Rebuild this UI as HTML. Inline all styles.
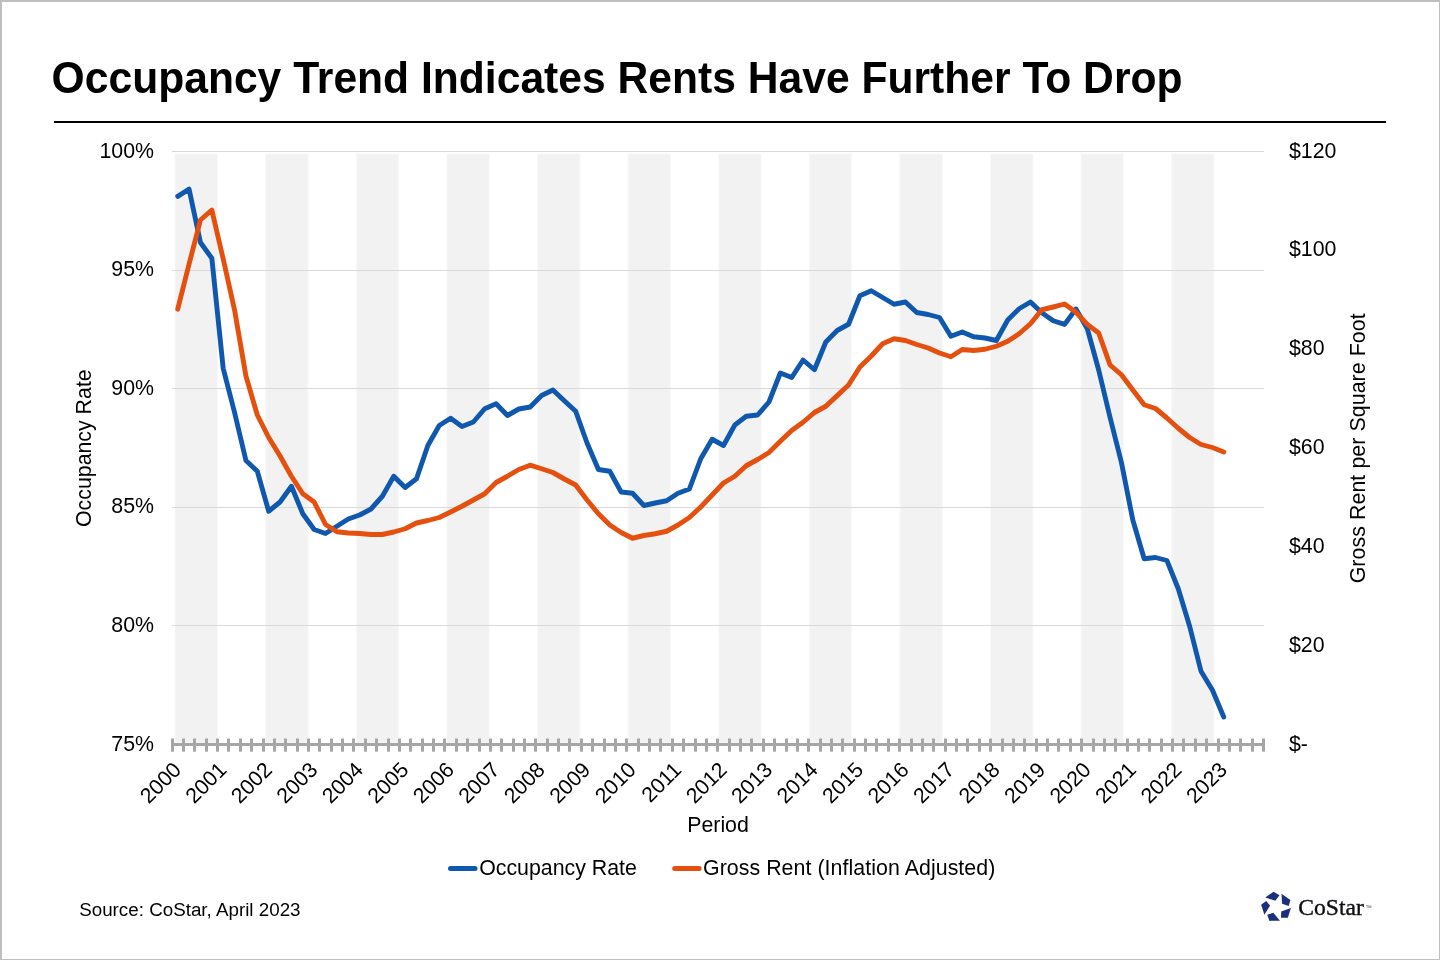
<!DOCTYPE html>
<html lang="en"><head><meta charset="utf-8"><title>Occupancy Trend Indicates Rents Have Further To Drop</title>
<style>
html,body{margin:0;padding:0;background:#fff;}
body{width:1440px;height:960px;overflow:hidden;position:relative;font-family:"Liberation Sans", sans-serif;}
svg{position:absolute;left:0;top:0;display:block;}
text{font-family:"Liberation Sans", sans-serif;fill:#000;}
.tl{font-size:21.33px;}
.logo{font-family:"Liberation Serif",serif;}
</style></head><body>
<svg width="1440" height="960" viewBox="0 0 1440 960">
<rect x="0" y="0" width="1440" height="960" fill="#fff"/>
<!-- outer frame -->
<rect x="0" y="0" width="1440" height="2" fill="#bfbfbf"/>
<rect x="0" y="0" width="2" height="960" fill="#bfbfbf"/>
<rect x="1439" y="0" width="1" height="960" fill="#bfbfbf"/>
<rect x="0" y="959" width="1440" height="1" fill="#bfbfbf"/>
<!-- title -->
<text id="title" transform="translate(51.6,92.6) scale(1,1.035)" font-size="42.62" font-weight="700">Occupancy Trend Indicates Rents Have Further To Drop</text>
<rect x="54" y="121" width="1332" height="2" fill="#000"/>

<g fill="#f2f2f2" stroke="#f9f9f9" stroke-width="1">
<rect x="175.00" y="153.9" width="42.6" height="589"/>
<rect x="265.60" y="153.9" width="42.6" height="589"/>
<rect x="356.20" y="153.9" width="42.6" height="589"/>
<rect x="446.80" y="153.9" width="42.6" height="589"/>
<rect x="537.40" y="153.9" width="42.6" height="589"/>
<rect x="628.00" y="153.9" width="42.6" height="589"/>
<rect x="718.60" y="153.9" width="42.6" height="589"/>
<rect x="809.20" y="153.9" width="42.6" height="589"/>
<rect x="899.80" y="153.9" width="42.6" height="589"/>
<rect x="990.40" y="153.9" width="42.6" height="589"/>
<rect x="1081.00" y="153.9" width="42.6" height="589"/>
<rect x="1171.60" y="153.9" width="42.6" height="589"/>
</g>
<g stroke="#d9d9d9" stroke-width="1">
<line x1="172" y1="151.50" x2="1264" y2="151.50"/>
<line x1="172" y1="270.50" x2="1264" y2="270.50"/>
<line x1="172" y1="388.50" x2="1264" y2="388.50"/>
<line x1="172" y1="507.50" x2="1264" y2="507.50"/>
<line x1="172" y1="625.50" x2="1264" y2="625.50"/>
</g>
<g stroke="#a6a6a6" stroke-width="3">
<line x1="171" y1="744.5" x2="1265" y2="744.5"/>
<line x1="172.50" y1="738.5" x2="172.50" y2="751.7"/>
<line x1="183.50" y1="738.5" x2="183.50" y2="751.7"/>
<line x1="194.50" y1="738.5" x2="194.50" y2="751.7"/>
<line x1="206.50" y1="738.5" x2="206.50" y2="751.7"/>
<line x1="217.50" y1="738.5" x2="217.50" y2="751.7"/>
<line x1="228.50" y1="738.5" x2="228.50" y2="751.7"/>
<line x1="240.50" y1="738.5" x2="240.50" y2="751.7"/>
<line x1="251.50" y1="738.5" x2="251.50" y2="751.7"/>
<line x1="263.50" y1="738.5" x2="263.50" y2="751.7"/>
<line x1="274.50" y1="738.5" x2="274.50" y2="751.7"/>
<line x1="285.50" y1="738.5" x2="285.50" y2="751.7"/>
<line x1="297.50" y1="738.5" x2="297.50" y2="751.7"/>
<line x1="308.50" y1="738.5" x2="308.50" y2="751.7"/>
<line x1="319.50" y1="738.5" x2="319.50" y2="751.7"/>
<line x1="331.50" y1="738.5" x2="331.50" y2="751.7"/>
<line x1="342.50" y1="738.5" x2="342.50" y2="751.7"/>
<line x1="353.50" y1="738.5" x2="353.50" y2="751.7"/>
<line x1="365.50" y1="738.5" x2="365.50" y2="751.7"/>
<line x1="376.50" y1="738.5" x2="376.50" y2="751.7"/>
<line x1="388.50" y1="738.5" x2="388.50" y2="751.7"/>
<line x1="399.50" y1="738.5" x2="399.50" y2="751.7"/>
<line x1="410.50" y1="738.5" x2="410.50" y2="751.7"/>
<line x1="422.50" y1="738.5" x2="422.50" y2="751.7"/>
<line x1="433.50" y1="738.5" x2="433.50" y2="751.7"/>
<line x1="444.50" y1="738.5" x2="444.50" y2="751.7"/>
<line x1="456.50" y1="738.5" x2="456.50" y2="751.7"/>
<line x1="467.50" y1="738.5" x2="467.50" y2="751.7"/>
<line x1="479.50" y1="738.5" x2="479.50" y2="751.7"/>
<line x1="490.50" y1="738.5" x2="490.50" y2="751.7"/>
<line x1="501.50" y1="738.5" x2="501.50" y2="751.7"/>
<line x1="513.50" y1="738.5" x2="513.50" y2="751.7"/>
<line x1="524.50" y1="738.5" x2="524.50" y2="751.7"/>
<line x1="535.50" y1="738.5" x2="535.50" y2="751.7"/>
<line x1="547.50" y1="738.5" x2="547.50" y2="751.7"/>
<line x1="558.50" y1="738.5" x2="558.50" y2="751.7"/>
<line x1="569.50" y1="738.5" x2="569.50" y2="751.7"/>
<line x1="581.50" y1="738.5" x2="581.50" y2="751.7"/>
<line x1="592.50" y1="738.5" x2="592.50" y2="751.7"/>
<line x1="604.50" y1="738.5" x2="604.50" y2="751.7"/>
<line x1="615.50" y1="738.5" x2="615.50" y2="751.7"/>
<line x1="626.50" y1="738.5" x2="626.50" y2="751.7"/>
<line x1="638.50" y1="738.5" x2="638.50" y2="751.7"/>
<line x1="649.50" y1="738.5" x2="649.50" y2="751.7"/>
<line x1="660.50" y1="738.5" x2="660.50" y2="751.7"/>
<line x1="672.50" y1="738.5" x2="672.50" y2="751.7"/>
<line x1="683.50" y1="738.5" x2="683.50" y2="751.7"/>
<line x1="695.50" y1="738.5" x2="695.50" y2="751.7"/>
<line x1="706.50" y1="738.5" x2="706.50" y2="751.7"/>
<line x1="717.50" y1="738.5" x2="717.50" y2="751.7"/>
<line x1="729.50" y1="738.5" x2="729.50" y2="751.7"/>
<line x1="740.50" y1="738.5" x2="740.50" y2="751.7"/>
<line x1="751.50" y1="738.5" x2="751.50" y2="751.7"/>
<line x1="763.50" y1="738.5" x2="763.50" y2="751.7"/>
<line x1="774.50" y1="738.5" x2="774.50" y2="751.7"/>
<line x1="786.50" y1="738.5" x2="786.50" y2="751.7"/>
<line x1="797.50" y1="738.5" x2="797.50" y2="751.7"/>
<line x1="808.50" y1="738.5" x2="808.50" y2="751.7"/>
<line x1="820.50" y1="738.5" x2="820.50" y2="751.7"/>
<line x1="831.50" y1="738.5" x2="831.50" y2="751.7"/>
<line x1="842.50" y1="738.5" x2="842.50" y2="751.7"/>
<line x1="854.50" y1="738.5" x2="854.50" y2="751.7"/>
<line x1="865.50" y1="738.5" x2="865.50" y2="751.7"/>
<line x1="876.50" y1="738.5" x2="876.50" y2="751.7"/>
<line x1="888.50" y1="738.5" x2="888.50" y2="751.7"/>
<line x1="899.50" y1="738.5" x2="899.50" y2="751.7"/>
<line x1="911.50" y1="738.5" x2="911.50" y2="751.7"/>
<line x1="922.50" y1="738.5" x2="922.50" y2="751.7"/>
<line x1="933.50" y1="738.5" x2="933.50" y2="751.7"/>
<line x1="945.50" y1="738.5" x2="945.50" y2="751.7"/>
<line x1="956.50" y1="738.5" x2="956.50" y2="751.7"/>
<line x1="967.50" y1="738.5" x2="967.50" y2="751.7"/>
<line x1="979.50" y1="738.5" x2="979.50" y2="751.7"/>
<line x1="990.50" y1="738.5" x2="990.50" y2="751.7"/>
<line x1="1002.50" y1="738.5" x2="1002.50" y2="751.7"/>
<line x1="1013.50" y1="738.5" x2="1013.50" y2="751.7"/>
<line x1="1024.50" y1="738.5" x2="1024.50" y2="751.7"/>
<line x1="1036.50" y1="738.5" x2="1036.50" y2="751.7"/>
<line x1="1047.50" y1="738.5" x2="1047.50" y2="751.7"/>
<line x1="1058.50" y1="738.5" x2="1058.50" y2="751.7"/>
<line x1="1070.50" y1="738.5" x2="1070.50" y2="751.7"/>
<line x1="1081.50" y1="738.5" x2="1081.50" y2="751.7"/>
<line x1="1093.50" y1="738.5" x2="1093.50" y2="751.7"/>
<line x1="1104.50" y1="738.5" x2="1104.50" y2="751.7"/>
<line x1="1115.50" y1="738.5" x2="1115.50" y2="751.7"/>
<line x1="1127.50" y1="738.5" x2="1127.50" y2="751.7"/>
<line x1="1138.50" y1="738.5" x2="1138.50" y2="751.7"/>
<line x1="1149.50" y1="738.5" x2="1149.50" y2="751.7"/>
<line x1="1161.50" y1="738.5" x2="1161.50" y2="751.7"/>
<line x1="1172.50" y1="738.5" x2="1172.50" y2="751.7"/>
<line x1="1183.50" y1="738.5" x2="1183.50" y2="751.7"/>
<line x1="1195.50" y1="738.5" x2="1195.50" y2="751.7"/>
<line x1="1206.50" y1="738.5" x2="1206.50" y2="751.7"/>
<line x1="1218.50" y1="738.5" x2="1218.50" y2="751.7"/>
<line x1="1229.50" y1="738.5" x2="1229.50" y2="751.7"/>
<line x1="1240.50" y1="738.5" x2="1240.50" y2="751.7"/>
<line x1="1252.50" y1="738.5" x2="1252.50" y2="751.7"/>
<line x1="1263.50" y1="738.5" x2="1263.50" y2="751.7"/>
</g>
<polyline fill="none" stroke="#1058ae" stroke-width="4.9" stroke-linejoin="round" stroke-linecap="round" points="177.72,196.30 189.09,189.20 200.46,242.50 211.83,258.30 223.20,368.30 234.57,412.50 245.94,460.50 257.31,471.25 268.69,511.25 280.05,502.00 291.42,486.25 302.79,513.75 314.16,529.50 325.53,533.50 336.90,526.25 348.27,519.00 359.64,515.00 371.01,509.00 382.38,496.25 393.75,476.25 405.12,487.50 416.50,478.75 427.87,445.50 439.24,425.50 450.61,418.25 461.98,426.50 473.35,422.00 484.71,408.75 496.08,403.75 507.45,415.50 518.82,409.00 530.19,407.00 541.56,395.50 552.93,390.00 564.30,400.75 575.67,411.25 587.04,443.00 598.41,469.50 609.78,471.25 621.15,492.00 632.52,493.25 643.89,505.50 655.26,503.00 666.63,500.75 678.00,493.25 689.37,489.00 700.74,458.75 712.11,439.25 723.48,445.50 734.85,425.00 746.22,416.25 757.59,415.00 768.96,402.00 780.33,373.00 791.70,377.50 803.07,360.00 814.44,369.75 825.81,342.00 837.18,330.50 848.55,324.25 859.92,295.75 871.29,290.75 882.66,297.50 894.03,304.25 905.40,302.00 916.77,312.50 928.14,314.50 939.51,317.50 950.88,336.25 962.25,332.00 973.62,336.75 984.99,338.00 996.36,340.50 1007.73,320.00 1019.10,308.75 1030.47,302.00 1041.85,312.75 1053.21,320.75 1064.59,324.40 1075.95,309.00 1087.33,328.75 1098.69,370.00 1110.07,417.50 1121.43,462.50 1132.81,520.00 1144.17,558.75 1155.54,557.50 1166.91,560.50 1178.28,588.75 1189.65,626.25 1201.02,671.25 1212.39,690.00 1223.76,717.00"/>
<polyline fill="none" stroke="#e6500f" stroke-width="4.9" stroke-linejoin="round" stroke-linecap="round" points="177.72,309.20 189.09,264.00 200.46,220.00 211.83,210.00 223.20,259.00 234.57,310.00 245.94,376.00 257.31,415.00 268.69,437.50 280.05,456.00 291.42,476.25 302.79,493.75 314.16,502.00 325.53,524.50 336.90,531.75 348.27,533.00 359.64,533.50 371.01,534.50 382.38,534.50 393.75,532.00 405.12,528.75 416.50,523.00 427.87,520.50 439.24,517.50 450.61,512.00 461.98,506.25 473.35,500.00 484.71,493.75 496.08,482.50 507.45,476.25 518.82,469.50 530.19,465.20 541.56,468.75 552.93,472.50 564.30,479.00 575.67,485.00 587.04,500.00 598.41,513.75 609.78,525.00 621.15,532.50 632.52,538.25 643.89,535.50 655.26,533.75 666.63,531.25 678.00,525.00 689.37,517.50 700.74,507.00 712.11,495.00 723.48,483.00 734.85,476.25 746.22,465.75 757.59,459.50 768.96,452.50 780.33,441.25 791.70,430.50 803.07,422.25 814.44,412.50 825.81,406.25 837.18,395.60 848.55,385.00 859.92,367.00 871.29,356.00 882.66,343.75 894.03,338.75 905.40,340.50 916.77,344.50 928.14,348.00 939.51,353.00 950.88,356.75 962.25,349.50 973.62,350.50 984.99,349.25 996.36,346.25 1007.73,341.25 1019.10,333.75 1030.47,323.75 1041.85,309.75 1053.21,307.00 1064.59,304.00 1075.95,312.25 1087.33,324.40 1098.69,333.00 1110.07,365.00 1121.43,374.75 1132.81,390.00 1144.17,404.75 1155.54,408.50 1166.91,418.00 1178.28,428.25 1189.65,437.50 1201.02,444.50 1212.39,447.50 1223.76,452.00"/>
<text class="tl" x="154" y="157.6" text-anchor="end">100%</text>
<text class="tl" x="154" y="276.2" text-anchor="end">95%</text>
<text class="tl" x="154" y="394.8" text-anchor="end">90%</text>
<text class="tl" x="154" y="513.4" text-anchor="end">85%</text>
<text class="tl" x="154" y="632.0" text-anchor="end">80%</text>
<text class="tl" x="154" y="750.6" text-anchor="end">75%</text>
<text class="tl" x="1289" y="157.6">$120</text>
<text class="tl" x="1289" y="256.4">$100</text>
<text class="tl" x="1289" y="355.3">$80</text>
<text class="tl" x="1289" y="454.1">$60</text>
<text class="tl" x="1289" y="552.9">$40</text>
<text class="tl" x="1289" y="651.8">$20</text>
<text class="tl" x="1289" y="750.6">$-</text>
<text class="tl" text-anchor="end" transform="translate(182.42,771.0) rotate(-45)">2000</text>
<text class="tl" text-anchor="end" transform="translate(227.90,771.0) rotate(-45)">2001</text>
<text class="tl" text-anchor="end" transform="translate(273.38,771.0) rotate(-45)">2002</text>
<text class="tl" text-anchor="end" transform="translate(318.86,771.0) rotate(-45)">2003</text>
<text class="tl" text-anchor="end" transform="translate(364.34,771.0) rotate(-45)">2004</text>
<text class="tl" text-anchor="end" transform="translate(409.82,771.0) rotate(-45)">2005</text>
<text class="tl" text-anchor="end" transform="translate(455.31,771.0) rotate(-45)">2006</text>
<text class="tl" text-anchor="end" transform="translate(500.78,771.0) rotate(-45)">2007</text>
<text class="tl" text-anchor="end" transform="translate(546.26,771.0) rotate(-45)">2008</text>
<text class="tl" text-anchor="end" transform="translate(591.75,771.0) rotate(-45)">2009</text>
<text class="tl" text-anchor="end" transform="translate(637.23,771.0) rotate(-45)">2010</text>
<text class="tl" text-anchor="end" transform="translate(682.71,771.0) rotate(-45)">2011</text>
<text class="tl" text-anchor="end" transform="translate(728.18,771.0) rotate(-45)">2012</text>
<text class="tl" text-anchor="end" transform="translate(773.66,771.0) rotate(-45)">2013</text>
<text class="tl" text-anchor="end" transform="translate(819.14,771.0) rotate(-45)">2014</text>
<text class="tl" text-anchor="end" transform="translate(864.62,771.0) rotate(-45)">2015</text>
<text class="tl" text-anchor="end" transform="translate(910.10,771.0) rotate(-45)">2016</text>
<text class="tl" text-anchor="end" transform="translate(955.58,771.0) rotate(-45)">2017</text>
<text class="tl" text-anchor="end" transform="translate(1001.06,771.0) rotate(-45)">2018</text>
<text class="tl" text-anchor="end" transform="translate(1046.55,771.0) rotate(-45)">2019</text>
<text class="tl" text-anchor="end" transform="translate(1092.03,771.0) rotate(-45)">2020</text>
<text class="tl" text-anchor="end" transform="translate(1137.51,771.0) rotate(-45)">2021</text>
<text class="tl" text-anchor="end" transform="translate(1182.98,771.0) rotate(-45)">2022</text>
<text class="tl" text-anchor="end" transform="translate(1228.46,771.0) rotate(-45)">2023</text>
<text class="tl" transform="translate(90.8,527) rotate(-90)">Occupancy Rate</text>
<text class="tl" transform="translate(1364.6,583.3) rotate(-90)" textLength="270" lengthAdjust="spacing">Gross Rent per Square Foot</text>
<text class="tl" x="687.2" y="832">Period</text>
<line x1="450.5" y1="868.5" x2="475" y2="868.5" stroke="#1058ae" stroke-width="5" stroke-linecap="round"/>
<text class="tl" x="479.2" y="875">Occupancy Rate</text>
<line x1="674.7" y1="868.5" x2="699.1" y2="868.5" stroke="#e6500f" stroke-width="5" stroke-linecap="round"/>
<text class="tl" x="703" y="875" textLength="292.3" lengthAdjust="spacing">Gross Rent (Inflation Adjusted)</text>
<text x="79.2" y="916" style="font-size:18.8px">Source: CoStar, April 2023</text>
<g id="logo" fill="#1b2f7b">
<polygon points="1265.28,897.47 1273.59,891.78 1279.50,895.28 1275.34,900.75"/>
<polygon points="1281.47,893.75 1290.44,900.09 1288.69,906.00 1282.12,903.81"/>
<polygon points="1281.25,911.47 1290.88,907.97 1287.81,917.81 1281.03,917.81"/>
<polygon points="1267.25,914.75 1273.38,912.78 1279.94,920.66 1269.44,920.88"/>
<polygon points="1261.12,904.69 1266.16,900.97 1270.09,905.56 1264.41,914.75"/>
</g>
<text x="1298.3" y="915" textLength="65.6" lengthAdjust="spacingAndGlyphs" style="font-size:23px;fill:#0d0d12;stroke:#0d0d12;stroke-width:0.35px;font-family:'Liberation Serif',serif">CoStar</text>
<text x="1365.3" y="909.6" style="font-size:6.5px;fill:#555">™</text>

</svg></body></html>
